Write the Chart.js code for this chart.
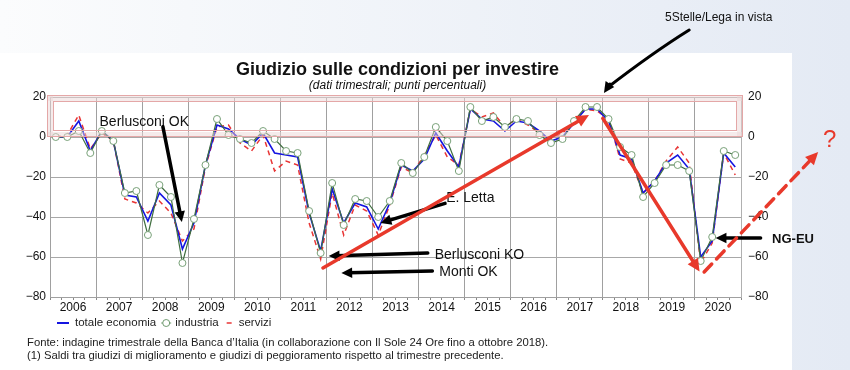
<!DOCTYPE html>
<html>
<head>
<meta charset="utf-8">
<script src="https://cdn.jsdelivr.net/npm/chart.js@4.4.1/dist/chart.umd.min.js"></script>
<style>
  html, body { margin: 0; padding: 0; background: #fff; }
  #wrap { width: 850px; height: 370px; }
</style>
</head>
<body>
<div id="wrap"><canvas id="giudizioChart" width="850" height="370"></canvas></div>
<script>
// Giudizio sulle condizioni per investire (dati trimestrali)

const years = [2006, 2007, 2008, 2009, 2010, 2011, 2012, 2013, 2014, 2015, 2016, 2017, 2018, 2019, 2020];
const quarters = ['T1', 'T2', 'T3', 'T4'];
const yTicks = [20, 0, -20, -40, -60, -80];

const totaleEconomia = [0, 0, 8, -7, 3, -2, -29, -30, -42, -28, -34, -56, -43, -14, 6, 4, -1, -4, 2, -8,
  -9, -10, -38, -57, -26, -43, -33, -35, -46, -33, -14, -17, -11, 2, -7, -15, 14, 9, 8, 3,
  8, 7, 3, -2, 0, 7, 14, 14, 8, -9, -11, -28, -22, -13, -9, -16, -60, -52, -8, -15];
const industria = [0, 0, 3, -8, 3, -2, -28, -27, -49, -24, -30, -63, -41, -14, 9, 1, -1, -3, 3, -1,
  -7, -8, -37, -58, -23, -44, -31, -32, -40, -32, -13, -18, -10, 5, -2, -17, 15, 8, 10, 5,
  9, 8, 1, -3, -1, 8, 15, 15, 9, -5, -9, -30, -23, -14, -14, -17, -62, -50, -7, -9];
const servizi = [0, 1, 11, -6, 2, -2, -31, -33, -38, -32, -38, -52, -46, -15, 5, 6, -3, -7, 1, -17,
  -12, -14, -43, -61, -28, -49, -34, -37, -49, -34, -15, -18, -9, 1, -10, -14, 14, 10, 12, 5,
  9, 6, 2, -1, 2, 7, 14, 13, 9, -11, -13, -28, -22, -12, -5, -13, -63, -53, -8, -19];

const labels = [];
years.forEach(y => quarters.forEach(q => labels.push(y + ' ' + q)));

const FONT = "'Liberation Sans', Arial, Helvetica, sans-serif";
const minus = v => String(v).replace('-', '\u2212');

// annotations in (quarter index, value) units
const notes = [
  { text: 'Berlusconi OK', x: 3.8, y: 7.5, size: 14 },
  { text: 'E. Letta', x: 33.9, y: -30.5, size: 14 },
  { text: 'Berlusconi KO', x: 32.9, y: -59.3, size: 14 },
  { text: 'Monti OK', x: 33.3, y: -67.8, size: 14 },
  { text: 'NG-EU', x: 62.2, y: -51, size: 13, bold: true },
  { text: '5Stelle/Lega in vista', x: 52.9, y: 59.5, size: 12 }
];
const blackArrows = [
  { from: [9.3, 5.2], to: [10.95, -42.5] },
  { from: [33.8, -33.2], to: [28.2, -43] },
  { from: [32.3, -58], to: [23.7, -59.5] },
  { from: [32.7, -67], to: [24.8, -68] },
  { from: [61.2, -50.5], to: [57.3, -50.5] }
];
const redArrows = [
  { from: [23.2, -65.5], to: [46.3, 11] },
  { from: [47.5, 9.3], to: [55.9, -67.3] },
  { from: [56.3, -67.5], to: [66.2, -7.5], dash: true }
];

function arrow(ctx, x1, y1, x2, y2, color, width, head, dash) {
  const a = Math.atan2(y2 - y1, x2 - x1);
  ctx.save();
  ctx.strokeStyle = color;
  ctx.fillStyle = color;
  ctx.lineWidth = width;
  ctx.lineCap = 'round';
  if (dash) ctx.setLineDash([11, 7]);
  ctx.beginPath();
  ctx.moveTo(x1, y1);
  ctx.lineTo(x2 - Math.cos(a) * head * 0.6, y2 - Math.sin(a) * head * 0.6);
  ctx.stroke();
  ctx.setLineDash([]);
  ctx.beginPath();
  ctx.moveTo(x2, y2);
  ctx.lineTo(x2 - head * Math.cos(a - 0.45), y2 - head * Math.sin(a - 0.45));
  ctx.lineTo(x2 - head * Math.cos(a + 0.45), y2 - head * Math.sin(a + 0.45));
  ctx.closePath();
  ctx.fill();
  ctx.restore();
}

const decorations = {
  id: 'decorations',
  beforeDraw(chart) {
    const ctx = chart.ctx;
    ctx.save();
    const g = ctx.createLinearGradient(0, 0, 850, 0);
    g.addColorStop(0, '#fbfcfd');
    g.addColorStop(1, '#e4eaf4');
    ctx.fillStyle = g;
    ctx.fillRect(0, 0, 850, 370);
    ctx.fillStyle = '#ffffff';
    ctx.fillRect(0, 53, 792, 317);
    ctx.restore();
  },
  afterDraw(chart) {
    const ctx = chart.ctx;
    const xs = chart.scales.x, ys = chart.scales.y;
    const area = chart.chartArea;
    const X = v => xs.getPixelForValue(v);
    const Y = v => ys.getPixelForValue(v);
    const cx = (area.left + area.right) / 2 + 2;

    ctx.save();
    // title
    ctx.fillStyle = '#111';
    ctx.textAlign = 'center';
    ctx.textBaseline = 'middle';
    ctx.font = 'bold 18px ' + FONT;
    ctx.fillText('Giudizio sulle condizioni per investire', cx, 70);
    ctx.font = 'italic 12px ' + FONT;
    ctx.fillText('(dati trimestrali; punti percentuali)', cx, 86);

    // pink highlight band (0..20)
    const top = Y(21), bot = Y(0);
    ctx.fillStyle = 'rgba(235, 215, 215, 0.5)';
    ctx.fillRect(area.left - 2, top, area.right - area.left + 3, 6);
    ctx.fillRect(area.left - 2, bot - 5, area.right - area.left + 3, 5);
    ctx.fillRect(area.left - 2, top, 5, bot - top);
    ctx.fillRect(area.right - 4, top, 5, bot - top);
    ctx.strokeStyle = '#e4a7a7';
    ctx.lineWidth = 1;
    ctx.strokeRect(area.left - 2.5, top + 0.5, area.right - area.left + 4, bot - top - 1);
    ctx.strokeRect(area.left + 3.5, top + 6.5, area.right - area.left - 8, bot - top - 13);

    // legend
    ctx.textAlign = 'left';
    ctx.font = '11.5px ' + FONT;
    const ly = 323;
    let lx = 57;
    ctx.strokeStyle = '#1515e0';
    ctx.lineWidth = 2;
    ctx.beginPath(); ctx.moveTo(lx, ly); ctx.lineTo(lx + 12, ly); ctx.stroke();
    ctx.fillStyle = '#222';
    lx += 18;
    ctx.fillText('totale economia', lx, ly);
    lx += ctx.measureText('totale economia').width + 5;
    ctx.strokeStyle = '#6f9a6f';
    ctx.lineWidth = 1;
    ctx.beginPath(); ctx.moveTo(lx, ly); ctx.lineTo(lx + 10, ly); ctx.stroke();
    ctx.fillStyle = '#fff';
    ctx.beginPath(); ctx.arc(lx + 5, ly, 3.5, 0, Math.PI * 2); ctx.fill(); ctx.stroke();
    ctx.fillStyle = '#222';
    lx += 14;
    ctx.fillText('industria', lx, ly);
    lx += ctx.measureText('industria').width + 8;
    ctx.strokeStyle = '#e83535';
    ctx.lineWidth = 1.5;
    ctx.beginPath(); ctx.moveTo(lx, ly); ctx.lineTo(lx + 5, ly); ctx.stroke();
    ctx.fillText('servizi', lx + 12, ly);

    // footer
    ctx.font = '11.3px ' + FONT;
    ctx.fillText('Fonte: indagine trimestrale della Banca d\u2019Italia (in collaborazione con Il Sole 24 Ore fino a ottobre 2018).', 27, 343);
    ctx.fillText('(1) Saldi tra giudizi di miglioramento e giudizi di peggioramento rispetto al trimestre precedente.', 27, 356);

    // notes
    notes.forEach(n => {
      ctx.font = (n.bold ? 'bold ' : '') + n.size + 'px ' + FONT;
      ctx.fillStyle = '#111';
      ctx.fillText(n.text, X(n.x), Y(n.y));
    });
    blackArrows.forEach(a => arrow(ctx, X(a.from[0]), Y(a.from[1]), X(a.to[0]), Y(a.to[1]), '#000', 3.5, 12));
    redArrows.forEach(a => arrow(ctx, X(a.from[0]), Y(a.from[1]), X(a.to[0]), Y(a.to[1]), '#e8392b', 3.5, 14, a.dash));

    // 5Stelle/Lega curved pointer
    const sx = X(55), sy = Y(53.5), ex = X(47.6), ey = Y(22);
    ctx.strokeStyle = '#000';
    ctx.lineWidth = 3;
    ctx.lineCap = 'round';
    ctx.beginPath();
    ctx.moveTo(sx, sy);
    ctx.quadraticCurveTo(X(51.8), Y(42), ex + 3, ey - 5);
    ctx.stroke();
    arrow(ctx, ex + 6, ey - 9, ex, ey, '#000', 3, 12);

    // question mark
    ctx.fillStyle = '#e8392b';
    ctx.font = '24px ' + FONT;
    ctx.textAlign = 'center';
    ctx.fillText('?', X(67.2), Y(-1.5));
    ctx.restore();
  }
};

new Chart(document.getElementById('giudizioChart'), {
  type: 'line',
  data: {
    labels: labels,
    datasets: [{
      label: 'industria',
      data: industria,
      borderColor: '#3f6e3f',
      borderWidth: 1.2,
      pointRadius: 3.5,
      pointBackgroundColor: '#ffffff',
      pointBorderColor: '#7aa27a',
      pointBorderWidth: 1,
      tension: 0,
      order: 0
    }, {
      label: 'totale economia',
      data: totaleEconomia,
      borderColor: '#1515e0',
      borderWidth: 1.6,
      pointRadius: 0,
      tension: 0,
      order: 1
    }, {
      label: 'servizi',
      data: servizi,
      borderColor: '#e83535',
      borderWidth: 1.5,
      borderDash: [5, 4],
      pointRadius: 0,
      tension: 0,
      order: 2
    }]
  },
  options: {
    responsive: false,
    animation: false,
    events: [],
    layout: { padding: { top: 97, left: 0, right: 0, bottom: 0 } },
    plugins: {
      legend: { display: false },
      tooltip: { enabled: false },
      title: { display: false }
    },
    scales: {
      x: {
        type: 'category',
        offset: true,
        afterFit: s => { s.height = 73; },
        grid: {
          offset: true,
          color: c => c.index % 4 === 0 ? '#a0a0a0' : 'rgba(0,0,0,0)',
          lineWidth: 1,
          drawTicks: true,
          tickLength: 3,
          tickColor: '#888'
        },
        border: { color: '#a0a0a0' },
        ticks: {
          autoSkip: false,
          maxRotation: 0,
          padding: 0,
          labelOffset: 5.75,
          color: '#111',
          font: { family: FONT, size: 12 },
          callback: (v, i) => i % 4 === 1 ? String(years[Math.floor(i / 4)]) : ''
        }
      },
      y: {
        position: 'left',
        min: -80,
        max: 20,
        afterFit: s => { s.width = 50; },
        afterBuildTicks: s => { s.ticks = yTicks.map(v => ({ value: v })); },
        grid: { color: '#a8a8a8', drawTicks: false },
        border: { color: '#a0a0a0' },
        ticks: {
          padding: 4,
          color: '#111',
          font: { family: FONT, size: 12 },
          callback: v => minus(v)
        }
      },
      y2: {
        position: 'right',
        min: -80,
        max: 20,
        afterFit: s => { s.width = 109; },
        afterBuildTicks: s => { s.ticks = yTicks.map(v => ({ value: v })); },
        grid: { display: false, drawTicks: false },
        border: { color: '#b0b0b0' },
        ticks: {
          padding: 7,
          color: '#111',
          font: { family: FONT, size: 12 },
          callback: v => minus(v)
        }
      }
    }
  },
  plugins: [decorations]
});
</script>
</body>
</html>
